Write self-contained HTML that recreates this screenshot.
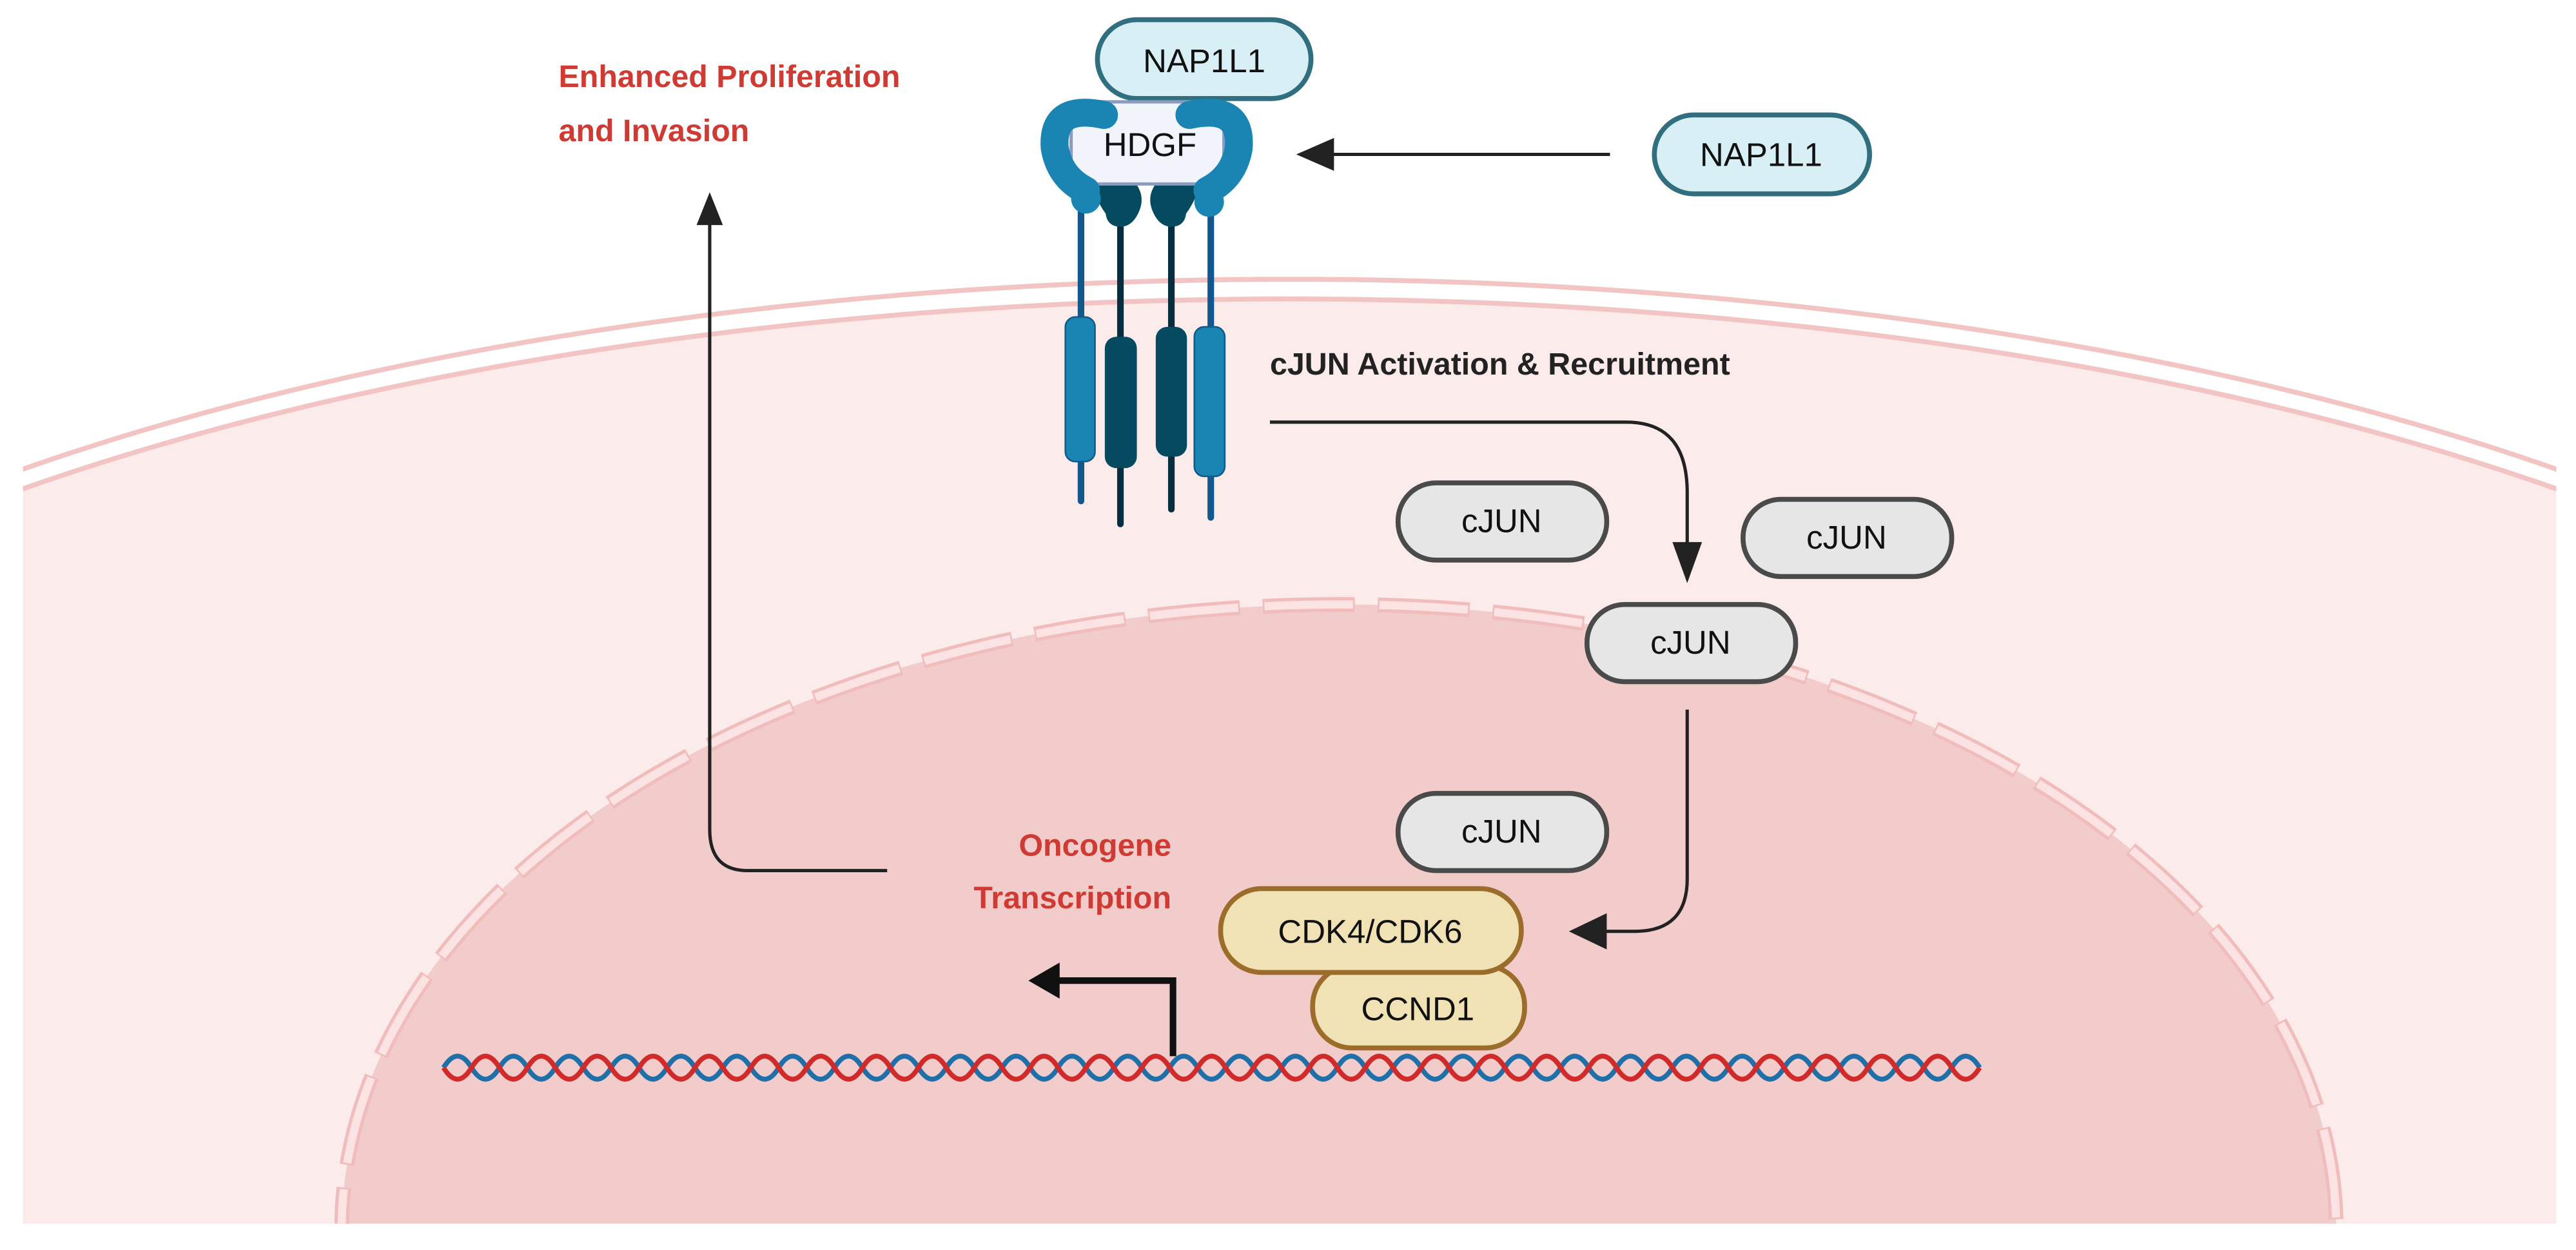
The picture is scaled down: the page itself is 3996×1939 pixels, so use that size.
<!DOCTYPE html>
<html><head><meta charset="utf-8"><style>
html,body{margin:0;padding:0;background:#fff;overflow:hidden;width:3996px;height:1939px;}
svg{display:block;position:absolute;left:0;top:0;}
text{font-family:"Liberation Sans",sans-serif;}
</style></head><body>
<svg width="3996" height="1939" viewBox="0 0 1568 761" preserveAspectRatio="none" xmlns="http://www.w3.org/2000/svg">
<defs>
<clipPath id="cl"><rect x="14" y="0" width="1542" height="745"/></clipPath>
</defs>
<rect width="1568" height="761" fill="#fff"/>
<g clip-path="url(#cl)">
  <ellipse cx="785" cy="620" rx="1139" ry="438" fill="#fcebeb"/>
  <ellipse cx="785" cy="620" rx="1152" ry="450" fill="none" stroke="#f3c4c4" stroke-width="3"/>
  <ellipse cx="785" cy="620" rx="1139" ry="438" fill="none" stroke="#f3c4c4" stroke-width="3"/>
  <ellipse cx="815" cy="748" rx="607" ry="380" fill="#f2cbcb"/>
  <ellipse cx="815" cy="748" rx="607" ry="380" fill="none" stroke="#f1bcbc" stroke-width="9" stroke-dasharray="56 14"/>
  <ellipse cx="815" cy="748" rx="607" ry="380" fill="none" stroke="#fbe3e3" stroke-width="5" stroke-dasharray="54 16" stroke-dashoffset="-1"/>
</g>

<!-- DNA -->
<path d="M270,650 q8.5,-14 17,0 t17,0t17,0t17,0t17,0t17,0t17,0t17,0t17,0t17,0t17,0t17,0t17,0t17,0t17,0t17,0t17,0t17,0t17,0t17,0t17,0t17,0t17,0t17,0t17,0t17,0t17,0t17,0t17,0t17,0t17,0t17,0t17,0t17,0t17,0t17,0t17,0t17,0t17,0t17,0t17,0t17,0t17,0t17,0t17,0t17,0t17,0t17,0t17,0t17,0t17,0t17,0t17,0t17,0t17,0" fill="none" stroke="#1f6fa8" stroke-width="3"/>
<path d="M270,650 q8.5,14 17,0 t17,0t17,0t17,0t17,0t17,0t17,0t17,0t17,0t17,0t17,0t17,0t17,0t17,0t17,0t17,0t17,0t17,0t17,0t17,0t17,0t17,0t17,0t17,0t17,0t17,0t17,0t17,0t17,0t17,0t17,0t17,0t17,0t17,0t17,0t17,0t17,0t17,0t17,0t17,0t17,0t17,0t17,0t17,0t17,0t17,0t17,0t17,0t17,0t17,0t17,0t17,0t17,0t17,0t17,0" fill="none" stroke="#d02a2a" stroke-width="3"/>

<!-- connectors -->
<path d="M540,530 L455,530 Q432,530 432,505 L432,135" fill="none" stroke="#222" stroke-width="2"/>
<polygon points="432,117 424,137 440,137" fill="#222"/>
<line x1="980" y1="94" x2="808" y2="94" stroke="#222" stroke-width="2"/>
<polygon points="789,94 812,84 812,104" fill="#222"/>
<path d="M773,257 L990,257 Q1027,257 1027,300 L1027,335" fill="none" stroke="#222" stroke-width="2"/>
<polygon points="1027,355 1018,330 1036,330" fill="#222"/>
<path d="M1027,432 L1027,535 Q1027,567 995,567 L975,567" fill="none" stroke="#222" stroke-width="2"/>
<polygon points="955,567 978,556 978,578" fill="#222"/>
<path d="M714,643 L714,597 L643,597" fill="none" stroke="#111" stroke-width="4"/>
<polygon points="626,597 645,586 645,608" fill="#111"/>

<!-- receptor -->
<g stroke-linecap="round">
  <line x1="658" y1="125" x2="658" y2="305" stroke="#12588c" stroke-width="4"/>
  <line x1="737" y1="125" x2="737" y2="315" stroke="#12588c" stroke-width="4"/>
  <line x1="682" y1="135" x2="682" y2="319" stroke="#062e3e" stroke-width="4"/>
  <line x1="713" y1="135" x2="713" y2="310" stroke="#062e3e" stroke-width="4"/>
</g>
<rect x="648.5" y="193" width="18" height="88" rx="6" fill="#1a84b3" stroke="#125a88" stroke-width="1"/>
<rect x="727" y="199" width="18.5" height="91" rx="6" fill="#1a84b3" stroke="#125a88" stroke-width="1"/>
<rect x="672.5" y="205" width="19.5" height="80" rx="7" fill="#064a60"/>
<rect x="703.5" y="199" width="19" height="79" rx="7" fill="#064a60"/>
<!-- dark hooks -->
<path d="M664,110 L690,110 Q697,118 694,127 Q690,138 682,138 Q674,138 673,130 Q667,122 664,110 Z" fill="#064a60"/>
<path d="M731,110 L705,110 Q698,118 701,127 Q705,138 713,138 Q721,138 722,130 Q728,122 731,110 Z" fill="#064a60"/>
<!-- NAP1L1 top -->
<rect x="668" y="12" width="130" height="48" rx="24" fill="#d8eff6" stroke="#2f6f80" stroke-width="3"/>
<text x="733" y="44" text-anchor="middle" font-size="20" fill="#111">NAP1L1</text>
<!-- HDGF -->
<rect x="652" y="62" width="93" height="50" rx="14" fill="#f1f4fa" stroke="#8c9cc0" stroke-width="2"/>
<text x="700" y="95" text-anchor="middle" font-size="20" fill="#111">HDGF</text>
<!-- light arms -->
<path d="M672,70 Q640,63 642,90 Q645,108 661,116" fill="none" stroke="#1a84b3" stroke-width="17" stroke-linecap="round"/>
<circle cx="661" cy="121" r="9" fill="#1a84b3"/>
<path d="M724,70 Q756,63 754,90 Q751,108 735,116" fill="none" stroke="#1a84b3" stroke-width="17" stroke-linecap="round"/>
<circle cx="736" cy="123" r="9" fill="#1a84b3"/>

<!-- right NAP1L1 -->
<rect x="1007" y="70" width="131" height="48" rx="24" fill="#d8eff6" stroke="#2f6f80" stroke-width="3"/>
<text x="1072" y="101" text-anchor="middle" font-size="20" fill="#111">NAP1L1</text>

<!-- cJUN pills -->
<g fill="#e6e6e6" stroke="#4a4a4a" stroke-width="3">
<rect x="851" y="294" width="127" height="47" rx="23"/>
<rect x="1061" y="304" width="127" height="47" rx="23"/>
<rect x="966" y="368" width="127" height="47" rx="23"/>
<rect x="851" y="483" width="127" height="47" rx="23"/>
</g>
<g font-size="20" fill="#111" text-anchor="middle">
<text x="914" y="324">cJUN</text>
<text x="1124" y="334">cJUN</text>
<text x="1029" y="398">cJUN</text>
<text x="914" y="513">cJUN</text>
</g>

<!-- CDK / CCND1 -->
<rect x="799" y="588" width="129" height="50" rx="24" fill="#f1e2b5" stroke="#9c6c2a" stroke-width="3"/>
<rect x="743" y="541" width="183" height="51" rx="25" fill="#f1e2b5" stroke="#9c6c2a" stroke-width="3"/>
<text x="834" y="574" text-anchor="middle" font-size="20" fill="#111">CDK4/CDK6</text>
<text x="863" y="621" text-anchor="middle" font-size="20" fill="#111">CCND1</text>

<!-- labels -->
<text x="773" y="228" font-size="19" font-weight="bold" fill="#222">cJUN Activation &amp; Recruitment</text>
<text x="340" y="53" font-size="19" font-weight="bold" fill="#cf3a32">Enhanced Proliferation</text>
<text x="340" y="86" font-size="19" font-weight="bold" fill="#cf3a32">and Invasion</text>
<text x="713" y="521" text-anchor="end" font-size="19" font-weight="bold" fill="#cf3a32">Oncogene</text>
<text x="713" y="553" text-anchor="end" font-size="19" font-weight="bold" fill="#cf3a32">Transcription</text>
</svg>
</body></html>
